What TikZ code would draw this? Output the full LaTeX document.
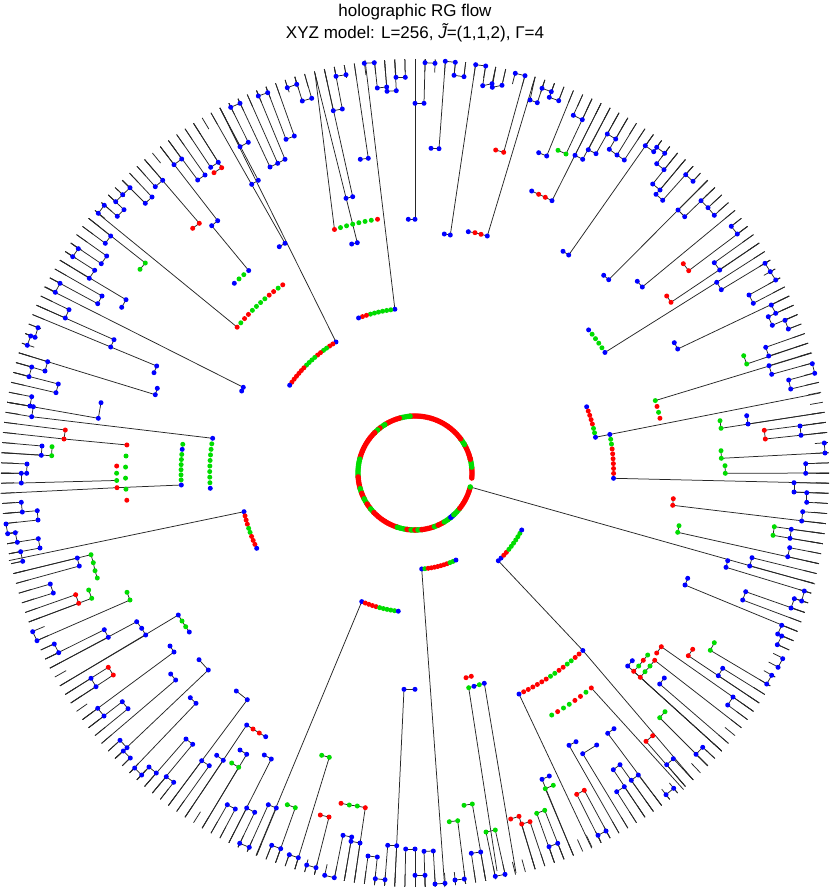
\documentclass[tikz,border=0pt]{standalone}
\usepackage{fontspec}
\setmainfont{Liberation Sans}
\usetikzlibrary{calc}
\definecolor{cb}{RGB}{0,0,255}
\definecolor{cr}{RGB}{255,0,0}
\definecolor{cg}{RGB}{0,220,0}
\tikzset{
  dot/.style={circle,inner sep=0pt,minimum size=5pt,draw=none},
  rdot/.style={circle,inner sep=0pt,minimum size=5.6pt,draw=none},
  ln/.style={draw=black!85,line width=0.75pt},
  ttl/.style={font=\fontsize{17}{20}\selectfont,anchor=base,inner sep=0pt}
}
\newcounter{dn}
\newcounter{rn}
\def\cur{d0}\def\prv{d0}\def\curx{0}\def\cury{0}
\def\dotlist{}
\newcommand{\mkd}[3]{\stepcounter{dn}\xdef\prv{\cur}\xdef\cur{d\arabic{dn}}%
  \xdef\curx{#1}\xdef\cury{#2}%
  \coordinate (\cur) at (#1,#2);%
  \xdef\dotlist{\unexpanded\expandafter{\dotlist}\noexpand\node[dot,fill=#3] (n\cur) at (\cur) {};}}
% line from the current dot out to the nearest of the 256 leaf positions on the rim
\newcommand{\rimln}{%
  \pgfmathsetmacro\angd{atan2(473-\cury,\curx-415)}%
  \pgfmathsetmacro\angr{round(\angd/1.40625)*1.40625}%
  \edef\rnm{r\cur}%
  \coordinate (\rnm) at ({415+414*cos(\angr)},{473-414*sin(\angr)});%
  \draw[ln] (\cur) -- (\rnm);}
\newcommand{\joinln}{\draw[ln] (\prv) -- (\cur);}
\newcommand{\dA}[3]{\mkd{#1}{#2}{#3}\rimln}
\newcommand{\dB}[3]{\mkd{#1}{#2}{#3}\rimln\joinln}
\newcommand{\dC}[3]{\mkd{#1}{#2}{#3}\joinln}
\newcommand{\dD}[3]{\mkd{#1}{#2}{#3}}
\newcommand{\dR}[2]{\edef\enm{e\arabic{dn}}\coordinate (\enm) at (#1,#2); \draw[ln] (\cur) -- (\enm);}
% name, radius, angle1, angle2, n, colours
\newcommand{\arcchain}[6]{%
  \foreach \clr [count=\kk from 1] in {#6} {
    \pgfmathsetmacro\angv{#3+(#4-#3)*(\kk-1)/(#5-1)}
    \edef\nm{#1x\kk}
    \coordinate (\nm) at ({415+#2*cos(\angv)},{473-#2*sin(\angv)});
    \xdef\dotlist{\unexpanded\expandafter{\dotlist}\noexpand\node[dot,fill=\clr] (n\nm) at (\nm) {};}
  }}
\begin{document}
\begin{tikzpicture}[x=1pt,y=-1pt]
\fill[white] (0,0) rectangle (830,888);
\useasboundingbox (0,0) rectangle (830,888);
\coordinate (C) at (415,473);
% title
\node[ttl] (t1) at (415,17) {holographic RG flow};
\node[ttl] (t2) at (415,39) {XYZ model: L=256, {\itshape\~J}=(1,1,2), Γ=4};
% rim stubs (one per site)
\foreach \i in {0,...,255} {
  \pgfmathsetmacro\angv{\i*1.40625}
  \draw[ln] ({415+414*cos(\angv)},{473-414*sin(\angv)}) -- ({415+401*cos(\angv)},{473-401*sin(\angv)});
}
% clusters
\arcchain{cA}{153}{121.1}{145}{18}{cb,cr,cr,cg,cg,cr,cr,cg,cg,cg,cg,cr,cr,cr,cr,cr,cr,cb}
\coordinate (eA) at (220,108); \draw[ln] (cAx1) -- (eA);
\arcchain{cB}{165}{97}{110}{10}{cb,cg,cg,cg,cg,cg,cg,cr,cr,cb}
\coordinate (eB) at (365,60); \draw[ln] (cBx1) -- (eB);
\arcchain{cC}{230}{140.65}{125.1}{12}{cr,cg,cr,cr,cg,cg,cg,cg,cr,cr,cg,cr}
\coordinate (eC) at (97.7,213.3); \draw[ln] (cCx1) -- (eC);
\arcchain{cD}{262}{133.6}{129.4}{4}{cb,cg,cg,cb}
\coordinate (eD) at (211.7,225.7); \draw[ln] (cDx4) -- (eD);
\arcchain{cE}{256.5}{108.3}{98.4}{8}{cr,cg,cg,cg,cg,cg,cg,cr}
\coordinate (eE) at (315,73.3); \draw[ln] (cEx1) -- (eE);
\arcchain{cF}{225}{39.5}{32.4}{6}{cb,cg,cg,cg,cg,cb}
\coordinate (eF) at (716.7,282.3); \draw[ln] (cFx6) -- (eF);
\arcchain{L1}{205.3}{170.27}{184.27}{10}{cb,cg,cg,cg,cg,cg,cg,cg,cg,cb}
\coordinate (eL1) at (31.7,416.7); \draw[ln] (L1x1) -- (eL1);
\arcchain{L2}{234}{172.95}{182.94}{9}{cg,cb,cg,cg,cg,cg,cg,cg,cb}
\arcchain{L3}{289.5}{174.44}{185.4}{6}{cr,cg,cg,cg,cg,cr}
\coordinate (eL3) at (64,439); \draw[ln] (L3x1) -- (eL3);
\arcchain{L4}{298.4}{178.66}{182.82}{4}{cr,cg,cg,cr}
\draw[ln] (L4x4) -- (L2x9);
\coordinate (eL4) at (0.6,493.4); \draw[ln] (L4x4) -- (eL4);
\coordinate (eL4b) at (21.3,483); \draw[ln] (L4x3) -- (eL4b);
\arcchain{R1}{198.6}{11.2}{-1.53}{10}{cb,cg,cg,cr,cr,cr,cr,cr,cr,cb}
\arcchain{R2}{184}{21.1}{11.2}{8}{cb,cr,cr,cr,cr,cg,cg,cb}
\draw[ln] (R1x1) -- (R2x8);
\coordinate (eR1) at (820,393); \draw[ln] (R1x1) -- (eR1);
\coordinate (eR1b) at (829,483.3); \draw[ln] (R1x10) -- (eR1b);
\arcchain{R3}{251}{16.77}{12.6}{4}{cg,cr,cg,cr}
\coordinate (eR3) at (812,353); \draw[ln] (R3x1) -- (eR3);
\arcchain{LL}{175.3}{192.75}{205.44}{10}{cb,cr,cr,cr,cg,cg,cr,cr,cr,cb}
\coordinate (eLL) at (9,560.6); \draw[ln] (LLx1) -- (eLL);
\arcchain{BCa}{96.2}{-86}{-64.8}{12}{cb,cg,cr,cr,cr,cr,cr,cr,cr,cg,cg,cb}
\coordinate (eBCa) at (444.7,887); \draw[ln] (BCax1) -- (eBCa);
\arcchain{BCb}{139.2}{247.5}{263.1}{11}{cb,cr,cr,cr,cr,cg,cg,cg,cg,cg,cb}
\coordinate (eBCb) at (256,855.5); \draw[ln] (BCbx1) -- (eBCb);
\arcchain{BR}{121}{-46.5}{-28.1}{11}{cb,cb,cr,cr,cg,cg,cg,cg,cg,cg,cb}
\arcchain{LRa}{244.3}{-46.6}{-64.8}{16}{cb,cr,cr,cg,cg,cr,cr,cg,cg,cr,cr,cr,cr,cr,cr,cb}
\draw[ln] (BRx1) -- (LRax1);
\coordinate (eLRa) at (693.3,780); \draw[ln] (LRax1) -- (eLRa);
\coordinate (eLRa2) at (591.7,848.2); \draw[ln] (LRax16) -- (eLRa2);
\arcchain{LRb}{278}{-60.54}{-50.64}{8}{cg,cr,cg,cg,cr,cr,cg,cr}
\coordinate (eLRb) at (683.5,789.5); \draw[ln] (LRbx8) -- (eLRb);
% upper-left
\dA{287.3}{87.7}{cb}\dB{296.7}{84.3}{cb}
\dA{258.3}{96}{cb}\dB{267.7}{92.7}{cb}
\dA{230.7}{107.3}{cb}\dB{240}{103.3}{cb}
\dA{286}{139.3}{cb}\dB{294.3}{136}{cb}
\dA{240}{146.7}{cb}\dB{248.3}{142.3}{cb}
\dA{270}{167}{cb}\dB{277.7}{163.3}{cb}\dB{285}{159.3}{cb}
\dA{210.7}{167.3}{cb}\dB{218.3}{162.3}{cb}
\dD{214}{172.7}{cr}\dB{221.7}{167.7}{cr}
\dA{197.7}{180}{cb}\dB{205}{175}{cb}
\dD{251.7}{184.3}{cb}\dB{258.3}{180.3}{cb}
\dA{174}{164.7}{cb}\dB{181.7}{159}{cb}
\dA{155.3}{186.7}{cb}\dB{162.7}{180.3}{cb}
\dA{145.3}{203.3}{cb}\dB{152}{197}{cb}
\dA{115.7}{201.7}{cb}\dB{122.7}{194.7}{cb}\dB{130}{187.7}{cb}
\dA{117.3}{216.3}{cb}\dB{124}{209.7}{cb}
\dA{98.3}{213.3}{cb}\dB{104.3}{205.3}{cb}
\dD{192.7}{228.3}{cr}\dB{199.3}{223.3}{cr}
\dD{211.7}{225.7}{cb}\dB{217.7}{220.7}{cb}
\dD{279.3}{246.7}{cb}\dB{285}{243.3}{cb}
\dD{140}{269.3}{cg}\dB{145.3}{263}{cg}
\dA{105.3}{243.3}{cb}\dB{110.7}{236}{cb}
\dA{72.7}{256.7}{cb}\dB{78.3}{248.7}{cb}
\dA{101.3}{263.7}{cb}\dB{106.7}{256}{cb}
\dA{89.3}{278.3}{cb}\dB{94.7}{270.3}{cb}
\dA{55.3}{292.3}{cb}\dB{60}{283.3}{cb}
\dA{97.7}{303.7}{cb}\dB{102}{296}{cb}
\dD{121.7}{307.3}{cb}\dB{126}{299.7}{cb}
\dA{65.3}{318}{cb}\dB{69}{309.7}{cb}
\dD{110.7}{347}{cb}\dB{114}{339.7}{cb}
\dA{27.3}{345.3}{cb}\dB{30.7}{336}{cb}\dB{35}{337.3}{cb}\dB{38}{327.7}{cb}
\dA{45}{371}{cb}\dB{47.7}{361.7}{cb}
\dA{29}{376.7}{cb}\dB{31.7}{367}{cb}
\dD{154}{372.7}{cb}\dB{156.7}{366}{cb}
\dA{58.3}{384}{cb}\dB{56}{392.7}{cb}
\dD{157.3}{388.3}{cb}\dB{155.3}{394.7}{cb}
\dD{243.3}{387.3}{cb}\dR{44}{286.8}\dC{241.7}{391}{cb}
% left
\dD{101}{402.7}{cb}\dB{98.3}{418.3}{cb}
\dA{31.7}{396.7}{cb}\dB{30}{406}{cb}\dB{33.3}{406.7}{cb}\dB{31.7}{416.7}{cb}
\dA{65.3}{430}{cr}\dB{64}{439}{cr}
\dA{42}{446}{cb}\dB{41.3}{455.3}{cb}
\dD{52}{446.7}{cg}\dB{51.7}{455.7}{cg}
\dA{27}{464}{cb}\dB{26.7}{473.3}{cb}\dB{21.3}{473.3}{cb}\dB{21.3}{483}{cb}
\dA{21.3}{502.3}{cb}\dB{22.3}{512}{cb}
\dA{37.3}{510.7}{cb}\dB{38}{520}{cb}
\dA{6}{524}{cb}\dB{7.7}{533.7}{cb}\dB{15.3}{532.7}{cb}\dB{17.3}{542.3}{cb}
\dA{38.3}{538.7}{cb}\dB{40}{548}{cb}
\dA{20.7}{551.7}{cb}\dB{22.7}{561.3}{cb}
\dA{77.3}{558}{cb}\dB{79.3}{566}{cb}
\dA{91}{554.7}{cg}\dC{93.3}{562.7}{cg}\dC{95}{570.7}{cg}\dC{97.3}{578}{cg}
% lower-left
\dA{50.3}{584}{cb}\dB{53.3}{593}{cb}
\dA{75.7}{594.7}{cr}\dB{78.7}{603.3}{cr}
\dD{88.7}{590}{cg}\dB{91.7}{598.3}{cg}
\dD{127}{592.3}{cg}\dB{130}{600}{cg}
\dA{32.7}{631.7}{cb}\dB{37}{640.7}{cb}
\dA{178.3}{615}{cb}\dC{182}{621}{cg}\dC{185.7}{626.7}{cg}\dC{189.3}{632}{cb}
\dA{136.7}{621.7}{cb}\dC{141.7}{628.3}{cb}\dB{145.7}{635}{cb}
\dA{104.3}{629.7}{cb}\dB{108.3}{637.3}{cb}
\dA{54.3}{644}{cb}\dB{58.7}{652.7}{cb}
\dD{170}{646}{cb}\dB{174}{652}{cb}
\dA{108.3}{667.3}{cr}\dB{113.3}{675}{cr}
\dA{91}{678.3}{cb}\dB{96}{686.7}{cb}
\dD{199}{659.7}{cb}\dB{208.3}{670}{cb}
\dD{170.7}{674}{cb}\dB{175.7}{680}{cb}
\dA{122.3}{701.7}{cb}\dB{128}{708.7}{cb}
\dA{97.7}{708.3}{cb}\dB{104}{716}{cb}
\dD{190.3}{697.7}{cb}\dB{196}{703.3}{cb}
\dD{236.3}{691}{cb}\dB{247.3}{699.7}{cb}
\dA{246.7}{725}{cb}\dC{253}{729}{cr}\dC{259.3}{733}{cr}\dC{265.7}{736.7}{cb}
\dA{120}{740.3}{cb}\dB{127}{747.7}{cb}\dB{123.3}{751}{cb}\dB{130.3}{758}{cb}
\dA{186}{739}{cb}\dB{192.7}{744.3}{cb}
\dD{240}{750}{cb}\dB{246.7}{754.3}{cb}
\dD{264.3}{755}{cb}\dB{271.3}{759}{cb}
\dA{201.7}{760.7}{cb}\dB{209.3}{765.7}{cb}
\dD{216.7}{755.3}{cb}\dB{223.3}{760.3}{cb}
\dD{231.7}{763}{cg}\dB{238.7}{767.3}{cg}
\dA{134.7}{768}{cb}\dB{141.7}{775}{cb}\dB{149}{767}{cb}\dB{156.3}{773}{cb}
\dA{166.3}{776.7}{cb}\dB{173.7}{782.3}{cb}
\dA{227.3}{804.7}{cb}\dB{235.3}{809}{cb}
\dA{246.7}{808}{cb}\dB{254.7}{812.3}{cb}
\dA{268.3}{804.7}{cb}\dB{276.3}{808}{cb}
\dD{287.3}{804.7}{cg}\dB{295.3}{807.7}{cg}
\dA{239.7}{843.3}{cb}\dB{249.3}{847.3}{cb}
\dA{271.7}{845.3}{cb}\dB{280.7}{848.7}{cb}
\dA{289.3}{854.7}{cb}\dB{298.3}{857.7}{cb}
% bottom
\dA{404}{689.3}{cb}\dC{415}{689.3}{cb}
\dD{466}{677.7}{cr}\dC{471.3}{676.3}{cr}
\dD{468.7}{687.7}{cg}\dR{497}{871}\dC{474}{686.3}{cb}\dC{479.3}{684.7}{cg}\dC{484.3}{683.3}{cb}\dR{516}{873}
\dD{321.7}{755.3}{cg}\dB{329.3}{757.3}{cg}
\dD{341}{803.3}{cr}\dC{349.3}{805}{cg}\dC{357.3}{806}{cg}\dB{365.3}{807.7}{cr}
\dD{320.3}{815}{cr}\dB{329}{817}{cr}
\dD{464}{805.3}{cg}\dB{472.3}{804}{cg}
\dD{449.3}{821.7}{cg}\dB{457.7}{820.7}{cg}
\dA{486}{832}{cg}\dB{495.3}{830}{cg}
\dD{510.7}{819}{cr}\dB{519}{816.3}{cr}
\dA{521.7}{824}{cr}\dB{530}{821.7}{cr}
\dA{343}{835.3}{cb}\dB{351.7}{837}{cb}
\dA{351}{841.3}{cb}\dB{360}{843}{cb}
\dA{387.7}{845.3}{cb}\dB{396.7}{845.7}{cb}
\dA{405.7}{849}{cb}\dB{415}{849}{cb}
\dA{424}{851.3}{cb}\dB{433.3}{851}{cb}
\dA{471.3}{853.3}{cb}\dB{480.7}{852}{cb}
\dA{368}{856}{cb}\dB{377.3}{857}{cb}
\dA{306.7}{865}{cb}\dB{316}{867.7}{cb}
\dA{324.7}{875.3}{cb}\dB{334.3}{877.7}{cb}
\dA{375.3}{878.7}{cb}\dB{385}{879.7}{cb}
\dA{415}{875.3}{cb}\dB{425}{875.3}{cb}
\dA{435}{884}{cb}\dB{445}{883.3}{cb}
\dA{455}{880}{cb}\dB{464.3}{879}{cb}
\dA{495.3}{876.3}{cb}\dB{505}{874.3}{cb}
% lower-right
\dD{687.7}{578.3}{cb}\dB{685}{585}{cb}
\dD{727.7}{560.7}{cb}\dB{726}{567.3}{cb}
\dA{745.7}{591.7}{cb}\dB{742.7}{600}{cb}
\dA{804.3}{591}{cb}\dB{801.7}{601}{cb}
\dA{794.3}{598.7}{cb}\dB{791}{608}{cb}
\dA{781.7}{625.3}{cb}\dB{777.7}{634}{cb}
\dA{781.7}{636}{cb}\dB{777.3}{644.7}{cb}
\dA{782.7}{658.7}{cb}\dB{778}{667.3}{cb}
\dA{771.7}{675.3}{cb}\dB{766.7}{684}{cb}
\dD{714.3}{642.7}{cg}\dB{710.3}{650.3}{cg}
\dD{692.7}{649.3}{cr}\dB{688.3}{655.7}{cr}
\dA{722.7}{668.3}{cb}\dB{718.3}{675.7}{cb}
\dA{733}{697}{cb}\dB{727.7}{705}{cb}
\dA{661.3}{646.7}{cr}\dC{656.7}{653}{cr}
\dD{647.7}{655}{cg}\dC{643.3}{660.3}{cr}\dC{638.7}{666}{cg}\dB{633.7}{671.3}{cr}
\dA{654.7}{660.3}{cr}\dC{650}{666}{cg}\dC{645}{671.7}{cg}\dB{640.3}{677.3}{cr}
\dD{632.3}{660.7}{cb}\dB{627.7}{666}{cb}
\dD{664.3}{678}{cb}\dB{659.7}{684}{cb}
\dD{665}{711.7}{cg}\dB{659.7}{717.7}{cg}
\dD{652.7}{735.7}{cr}\dB{646}{741.3}{cr}
\dD{614}{728.7}{cb}\dB{607.7}{733.3}{cb}
\dD{576}{741.7}{cb}\dB{569}{745.3}{cb}
\dD{596.7}{745}{cb}\dB{582.7}{753.7}{cb}
\dA{702.7}{747.3}{cb}\dB{696}{754.3}{cb}
\dA{673.3}{758.7}{cb}\dB{666.7}{764.7}{cb}
\dA{620}{764.7}{cb}\dB{613.3}{769.7}{cb}
\dA{638.3}{775}{cb}\dB{631.3}{780.3}{cb}
\dA{624.3}{786.7}{cb}\dB{616.7}{791.7}{cb}
\dA{673.7}{788.3}{cb}\dB{666}{794.7}{cb}
\dD{549.3}{776}{cb}\dB{542}{779.3}{cb}
\dD{553.3}{785.3}{cg}\dB{545.3}{788.7}{cg}
\dA{544.7}{810.3}{cg}\dB{536.7}{813.3}{cg}
\dA{584.3}{790.3}{cr}\dB{576.7}{794.3}{cr}
\dA{606}{831}{cb}\dB{598}{835.3}{cb}
\dA{557.7}{843.3}{cb}\dB{549}{846.7}{cb}
% right
\dA{788.7}{380}{cb}\dB{790.7}{389}{cb}
\dD{720}{420.7}{cg}\dB{721}{428.3}{cg}
\dD{746.7}{415.7}{cb}\dB{748}{424}{cb}
\dA{764.3}{430.3}{cr}\dB{765.3}{439}{cr}
\dA{800}{426}{cb}\dB{801}{435.3}{cb}
\dA{824.3}{443}{cb}\dB{825}{453}{cb}
\dD{721}{450.7}{cg}\dB{721.3}{458.3}{cg}
\dD{725}{465.7}{cg}\dB{725.3}{473.3}{cg}
\dA{805.7}{463.7}{cb}\dB{805.7}{473.3}{cb}
\dA{794}{482.7}{cb}\dB{794}{492}{cb}\dB{806.7}{492.7}{cb}\dB{806.7}{502.3}{cb}
\dD{673.3}{498.7}{cr}\dB{672.7}{505.3}{cr}
\dA{802.7}{511.7}{cb}\dB{801.7}{521}{cb}
\dD{679}{525.7}{cg}\dB{677.7}{532.3}{cg}
\dA{774.3}{526.7}{cg}\dB{773}{535.3}{cg}
\dA{791.3}{529.3}{cb}\dB{790}{538.3}{cb}
\dA{789.7}{547.7}{cb}\dB{787.7}{556.7}{cb}
\dA{752}{557.7}{cb}\dB{749.7}{566}{cb}
% upper-right
\dA{542}{88.3}{cb}\dB{551.3}{91.7}{cb}
\dA{549.3}{97.3}{cb}\dB{558.7}{100.7}{cb}
\dA{530}{100}{cb}\dB{537.3}{102.7}{cb}
\dA{573.3}{115.3}{cb}\dB{582.3}{119.7}{cb}
\dD{538.7}{152.7}{cb}\dB{546.7}{156}{cb}
\dD{558}{150.3}{cg}\dB{566}{154}{cg}
\dA{575}{155.3}{cb}\dB{582.7}{159.3}{cb}
\dA{588.3}{149.7}{cb}\dB{596}{153.7}{cb}
\dA{607.3}{134}{cb}\dB{615.7}{139}{cb}
\dA{609.3}{149.3}{cb}\dB{617}{155}{cb}\dB{624.3}{160}{cb}
\dA{645.3}{145.7}{cb}\dB{653.7}{151.7}{cb}
\dA{656.7}{147.3}{cb}\dB{664.7}{153.3}{cb}
\dA{656.7}{163.7}{cb}\dB{664}{169.7}{cb}
\dA{685.7}{174.7}{cb}\dB{693}{181.3}{cb}
\dA{652.7}{184}{cb}\dB{660}{190}{cb}
\dA{656}{194.3}{cb}\dB{662.7}{200.3}{cb}
\dD{531.7}{191}{cb}\dC{538.7}{194.3}{cr}\dC{545.3}{197.3}{cr}\dB{552}{200.7}{cb}
\dA{701}{200.7}{cb}\dB{708}{207.7}{cb}\dB{714.3}{215.3}{cb}
\dA{678}{210}{cb}\dB{684.7}{216.7}{cb}
\dA{731.3}{226.3}{cb}\dB{737.3}{234}{cb}
\dD{563}{251.3}{cb}\dB{568.7}{255}{cb}
\dD{683.3}{263.7}{cr}\dB{688.7}{270.7}{cr}
\dA{714.3}{262.7}{cb}\dB{719.7}{270}{cb}
\dA{765}{263.3}{cb}\dB{770.3}{271.7}{cb}\dB{775.7}{280}{cb}
\dD{603.7}{275.3}{cb}\dB{608.7}{279.7}{cb}
\dD{637.3}{281.3}{cb}\dB{642.3}{287}{cb}
\dA{716.7}{282.3}{cb}\dB{721.3}{289.7}{cb}
\dD{666.7}{296}{cr}\dB{671}{302.3}{cr}
\dA{749}{295}{cb}\dB{753.3}{303.3}{cb}
\dA{771.3}{305}{cb}\dB{775.7}{313.3}{cb}
\dA{768.3}{316.7}{cb}\dB{772.3}{325.3}{cb}
\dA{785}{320.3}{cb}\dB{788.3}{329}{cb}
\dD{674.3}{342.7}{cb}\dB{677.7}{349}{cb}
\dA{765.7}{347.3}{cb}\dB{768.7}{356}{cb}
\dD{743.7}{355.7}{cg}\dB{746.7}{364}{cg}
\dA{769}{365.7}{cb}\dB{771.7}{374.3}{cb}
\dA{812.3}{363.7}{cb}\dB{814.7}{373.3}{cb}
% top
\dA{302.3}{101}{cb}\dB{311.7}{98.3}{cb}
\dA{336}{76.3}{cb}\dB{346}{74.7}{cb}
\dA{333.3}{110.7}{cb}\dB{342.3}{109}{cb}
\dA{364.3}{63.3}{cb}\dB{374.3}{62.7}{cb}
\dA{377.3}{88}{cb}\dB{386.7}{87}{cb}
\dA{387}{91.3}{cb}\dB{396.3}{90.7}{cb}
\dA{396}{77.3}{cb}\dB{405.3}{77.3}{cb}
\dA{425}{62.7}{cb}\dB{435}{63.3}{cb}
\dA{445.3}{61.3}{cb}\dB{455.3}{62.3}{cb}
\dA{454}{75.3}{cb}\dB{464}{76.7}{cb}
\dA{475.7}{64.7}{cb}\dB{485.7}{66}{cb}
\dA{482.7}{85.7}{cb}\dB{492}{83.7}{cb}\dB{492.3}{87.3}{cb}\dB{502}{85.3}{cb}
\dA{515.3}{73.3}{cb}\dB{525}{75.7}{cb}
\dA{415}{103.3}{cb}\dB{424}{103.3}{cb}
\dD{431}{148.3}{cb}\dB{439}{148.7}{cb}
\dD{360.3}{159.3}{cb}\dB{368.3}{158.3}{cb}
\dD{495.7}{150}{cr}\dB{503.7}{152.3}{cr}
\dD{346}{198.3}{cb}\dB{352.7}{196.7}{cb}
\dD{408.3}{219.3}{cb}\dB{415}{219.3}{cb}
\dD{444.3}{234}{cb}\dB{450.3}{235}{cb}
\dD{468.3}{231.7}{cb}\dC{475}{232.7}{cr}\dC{481}{234.3}{cr}\dB{487.3}{236}{cb}
\dD{351.7}{244}{cb}\dB{357.3}{242.7}{cb}
% inner ring: connector first, then its dots
\coordinate (ringpt) at ({415+57*cos(-14.2)},{473-57*sin(-14.2)});
\coordinate (eRing) at (815,584);
\draw[ln] (ringpt) -- (eRing);
\foreach \a/\b/\clr in {-5/6/cr,6/14/cg,14/30/cr,30/37/cg,37/95/cr,95/106/cg,106/122/cr,122/128/cg,128/131/cr,131/135/cg,135/166/cr,166/184/cg,184/196/cr,196/201/cg,201/207/cr,207/213/cg,213/219/cr,219/224/cg,224/252/cr,252/262/cg,262/266/cr,266/270/cg,270/273/cr,273/277/cg,277/290/cr,290/294/cg,294/301/cr,301/309/cg,309/313/cb,313/322/cg,322/344/cr} {
  \pgfmathtruncatemacro\nn{(\b-\a)/2}
  \foreach \j in {0,...,\nn} {
    \pgfmathsetmacro\angv{\a+2*\j}
    \stepcounter{rn}\edef\nm{rg\arabic{rn}}
    \node[rdot,fill=\clr] (\nm) at ({415+57*cos(\angv)},{473-57*sin(\angv)}) {};
  }
}
\node[rdot,fill=cg] (ringend) at (ringpt) {};
% all dots on top of the connectors
\dotlist
\end{tikzpicture}
\end{document}
